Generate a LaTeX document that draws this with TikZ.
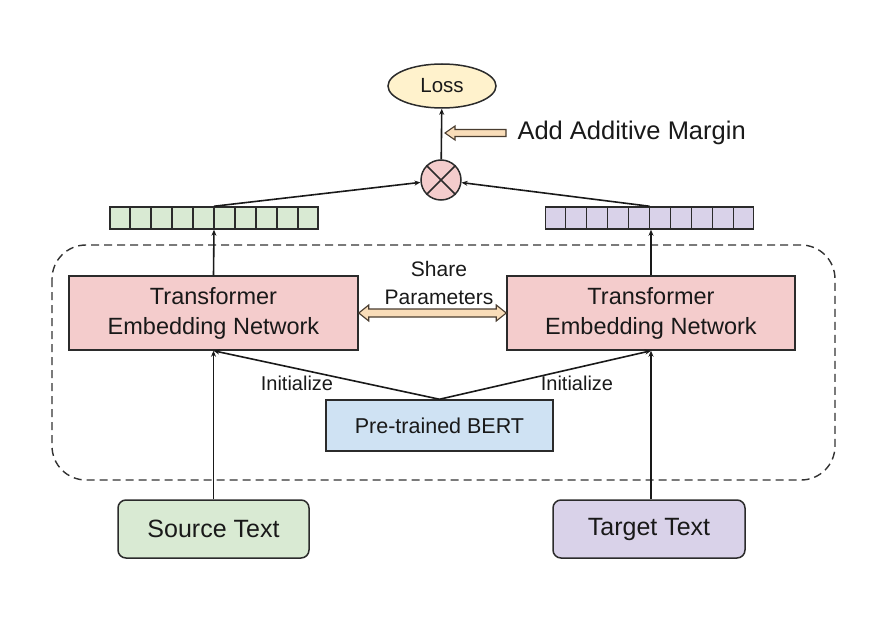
\documentclass[tikz,border=0pt]{standalone}
\usepackage{fontspec}
\setmainfont{Liberation Sans}
\usetikzlibrary{calc,arrows.meta,shapes.geometric}
\definecolor{lossfill}{HTML}{FFF2CC}
\definecolor{pinkfill}{HTML}{F4CCCC}
\definecolor{greenfill}{HTML}{D9EAD3}
\definecolor{purplefill}{HTML}{D9D2E9}
\definecolor{bluefill}{HTML}{CFE2F3}
\definecolor{tanfill}{HTML}{F9DDB9}
\definecolor{edge}{HTML}{2B2B2B}
\begin{document}
\begin{tikzpicture}[x=1pt,y=-1pt,
  box/.style={draw=edge,line width=1.5pt,inner sep=0pt},
  conn/.style={draw=black!90,line width=1.6pt,-{Stealth[length=6pt,width=5pt]}},
  hollow/.style={draw=edge!80!brown,line width=1.1pt,fill=tanfill},
  vec/.style={box,minimum width=208pt,minimum height=22pt},
  txt/.style={font=\fontsize{22}{26}\selectfont,text=black!90}
]
\useasboundingbox (0,0) rectangle (879,618);

% dashed container
\draw[draw=black!80,line width=1.4pt,dash pattern=on 8pt off 5pt,rounded corners=34pt] (52,245) rectangle (835,480);

% nodes
\node[box,ellipse,fill=lossfill,minimum width=108pt,minimum height=44pt,txt,font=\fontsize{20.5}{24}\selectfont] (loss) at (442,86) {Loss};
\node[box,circle,fill=pinkfill,minimum size=40pt] (cx) at (441,180) {};
\draw[edge,line width=1.5pt] (cx.north west) -- (cx.south east) (cx.north east) -- (cx.south west);

\node[vec,fill=greenfill] (vg) at (214,218) {};
\node[vec,fill=purplefill] (vp) at (649.5,218) {};
\foreach \v in {vg,vp}{
  \foreach \i in {1,...,9}{
    \draw[edge,line width=1.5pt] ($(\v.south west)!\i/10!(\v.south east)$) -- ($(\v.north west)!\i/10!(\v.north east)$);
  }
}

\node[box,fill=pinkfill,minimum width=289pt,minimum height=74pt,align=center,txt,font=\fontsize{23.5}{30}\selectfont] (tl) at (213.5,313) {Transformer\\Embedding Network};
\node[box,fill=pinkfill,minimum width=288pt,minimum height=74pt,align=center,txt,font=\fontsize{23.5}{30}\selectfont] (tr) at (651,313) {Transformer\\Embedding Network};

\node[box,fill=bluefill,minimum width=227pt,minimum height=51pt,txt,font=\fontsize{21.5}{26}\selectfont] (bert) at (439.5,425.5) {Pre-trained BERT};

\node[box,rounded corners=8pt,fill=greenfill,minimum width=191pt,minimum height=58pt,txt,font=\fontsize{25}{30}\selectfont] (src) at (213.5,529) {Source Text};
\node[box,rounded corners=8pt,fill=purplefill,minimum width=192pt,minimum height=58pt,txt,font=\fontsize{25}{30}\selectfont] (tgt) at (649,529) {Target Text};

% labels
\node[txt,font=\fontsize{21}{28}\selectfont,align=center] (share) at (439,283) {Share\\Parameters};
\node[txt,font=\fontsize{20}{24}\selectfont] (initl) at (297,383) {Initialize};
\node[txt,font=\fontsize{20}{24}\selectfont] (initr) at (577,383) {Initialize};
\node[txt,font=\fontsize{25.5}{30}\selectfont,anchor=west] (margin) at (514,133) {Add Additive Margin};

% connectors
\draw[conn] (src.north) -- (tl.south);
\draw[conn] (tgt.north -| tr.south) -- (tr.south);
\draw[conn] (tl.north) -- (vg.south);
\draw[conn] (tr.north) -- (vp.south -| tr.north);
\draw[conn] (vg.north) -- (cx);
\draw[conn] (vp.north) -- (cx);
\draw[conn] (cx) -- (loss);
\draw[conn] (bert.north) -- (tl.south);
\draw[conn] (bert.north) -- (tr.south);

% share parameters hollow double arrow
\coordinate (sl) at (tl.east);
\coordinate (sr) at (tr.west);
\draw[hollow] (sl) -- ($(sl)+(10,-8)$) -- ($(sl)+(10,-4)$) -- ($(sr)+(-10,-4)$) -- ($(sr)+(-10,-8)$) -- (sr)
  -- ($(sr)+(-10,8)$) -- ($(sr)+(-10,4)$) -- ($(sl)+(10,4)$) -- ($(sl)+(10,8)$) -- cycle;

% additive margin hollow arrow
\coordinate (mt) at (445,133);
\coordinate (me) at ($(margin.west)+(-8,0)$);
\draw[hollow] (mt) -- ($(mt)+(10,-7)$) -- ($(mt)+(10,-3.5)$) -- ($(me)+(0,-3.5)$) -- ($(me)+(0,3.5)$) -- ($(mt)+(10,3.5)$) -- ($(mt)+(10,7)$) -- cycle;
\end{tikzpicture}
\end{document}
